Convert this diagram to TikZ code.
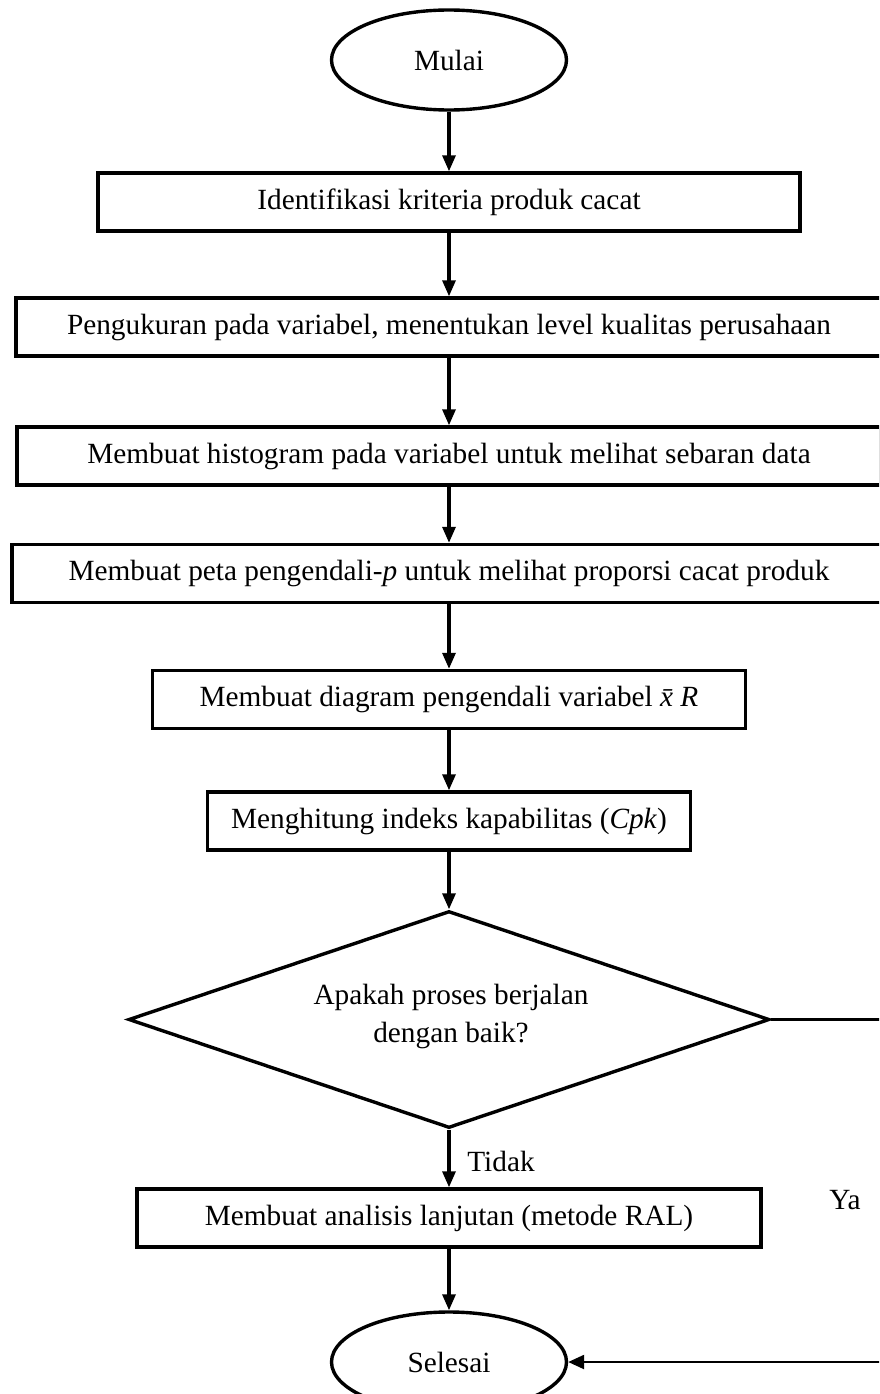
\documentclass[tikz,border=0pt]{standalone}
\usepackage{fontspec}
\setmainfont{Liberation Serif}
\usetikzlibrary{arrows.meta,shapes.geometric}
\begin{document}
\begin{tikzpicture}[x=1pt,y=-1pt,
  every node/.style={font=\fontsize{29.3pt}{35pt}\selectfont},
  box/.style={draw, line width=3.4pt, rectangle, inner sep=0pt, minimum height=58pt},
  term/.style={draw, line width=3.4pt, ellipse, inner sep=0pt, minimum width=235pt, minimum height=100pt},
  dec/.style={draw, line width=3.4pt, diamond, inner sep=0pt, minimum width=641pt, minimum height=217pt},
  arr/.style={line width=3.2pt, -{Triangle[length=16pt,width=13pt]}},
  yaline/.style={line width=2.4pt}]
\useasboundingbox (0,0) rectangle (879,1394);
\clip (0,0) rectangle (879,1394);
\fill[white] (0,0) rectangle (879,1394);
\node[term] (mulai) at (449,60) {Mulai};
\node[box, minimum width=702pt] (b1) at (449,202) {Identifikasi kriteria produk cacat};
\node[box, minimum width=866pt] (b2) at (449,327) {Pengukuran pada variabel, menentukan level kualitas perusahaan};
\node[box, minimum width=864pt] (b3) at (449,456) {Membuat histogram pada variabel untuk melihat sebaran data};
\node[box, minimum width=874pt] (b4) at (449,573.5) {Membuat peta pengendali-\textit{p} untuk melihat proporsi cacat produk};
\node[box, minimum width=593pt] (b5) at (449,699.5) {Membuat diagram pengendali variabel \textit{\={x} R}};
\node[box, minimum width=483pt] (b6) at (449,821) {Menghitung indeks kapabilitas (\textit{Cpk})};
\node[dec] (d) at (449,1019.5) {};
\node[align=center, font=\fontsize{29.3pt}{38pt}\selectfont] (dtext) at (451,1016) {Apakah proses berjalan\\dengan baik?};
\node[box, minimum width=624pt] (b7) at (449,1218) {Membuat analisis lanjutan (metode RAL)};
\node[term] (selesai) at (449,1362) {Selesai};
\node (tidak) at (501,1161) {Tidak};
\node (ya) at (845,1200) {Ya};
\coordinate (r1) at (893,1019.5);
\coordinate (r2) at (893,1362);
\draw[arr] (mulai) -- (b1);
\draw[arr] (b1) -- (b2);
\draw[arr] (b2) -- (b3);
\draw[arr] (b3) -- (b4);
\draw[arr] (b4) -- (b5);
\draw[arr] (b5) -- (b6);
\draw[arr] (b6) -- (d);
\draw[arr] (d) -- (b7);
\draw[arr] (b7) -- (selesai);
\draw[yaline] (d.east) -- (r1) -- (r2);
\draw[yaline, -{Triangle[length=16pt,width=14pt]}] (r2) -- (selesai);
\end{tikzpicture}
\end{document}
